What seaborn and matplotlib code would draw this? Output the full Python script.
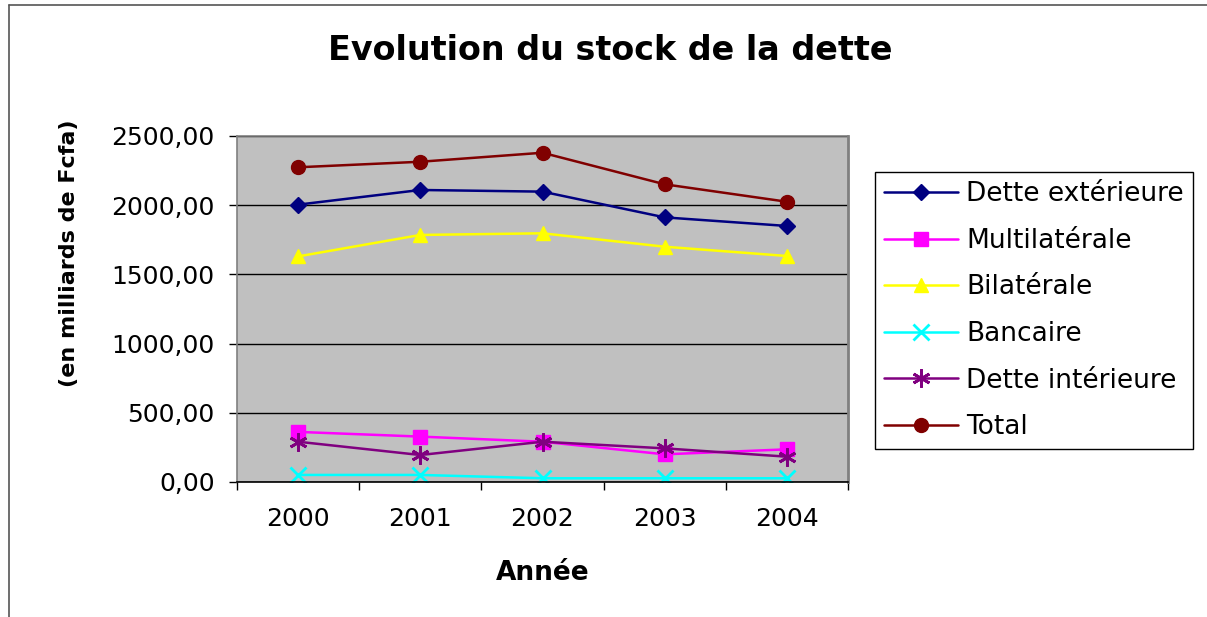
import matplotlib
matplotlib.use("Agg")
import matplotlib.pyplot as plt
from matplotlib.lines import Line2D
import seaborn as sns
import pandas as pd
import numpy as np

years = ["2000", "2001", "2002", "2003", "2004"]
dette_exterieure = [2004, 2110, 2098, 1912, 1850]
multilaterale = [362, 328, 291, 200, 236]
bilaterale = [1630, 1785, 1797, 1700, 1633]
bancaire = [51, 51, 27, 27, 27]
dette_interieure = [291, 195, 291, 243, 183]
total = [2274, 2314, 2379, 2151, 2025]

series_names = ["Dette extérieure", "Multilatérale", "Bilatérale",
                "Bancaire", "Dette intérieure", "Total"]
series_values = [dette_exterieure, multilaterale, bilaterale,
                 bancaire, dette_interieure, total]
colors = ["#000080", "#FF00FF", "#FFFF00", "#00FFFF", "#800080", "#800000"]
markers = ["D", "s", "^", "x", (6, 2, 0), "o"]
msizes = [8, 10, 10, 11, 13, 10]

sns.set_theme(style="ticks")
plt.rcParams["font.family"] = ["DejaVu Sans"]
plt.rcParams["text.color"] = "black"
plt.rcParams["axes.labelcolor"] = "black"
plt.rcParams["xtick.color"] = "black"
plt.rcParams["ytick.color"] = "black"

fig = plt.figure(figsize=(12.07, 6.17), dpi=100)
ax = fig.add_axes([237 / 1207, 135 / 617, 611 / 1207, 346 / 617])
ax.set_facecolor("#C0C0C0")

x_idx = np.arange(len(years))
for name, vals, col, mk, ms in zip(series_names, series_values, colors, markers, msizes):
    df = pd.DataFrame({"idx": x_idx, "valeur": vals})
    sns.lineplot(data=df, x="idx", y="valeur", ax=ax, color=col, marker=mk,
                 markersize=ms, linewidth=1.8, label=name, legend=False)

for ln, col in zip(ax.lines, colors):
    ln.set_markeredgecolor(col)
    ln.set_markerfacecolor(col)
    ln.set_markeredgewidth(2 if ln.get_marker() in ("x",) or isinstance(ln.get_marker(), tuple) else 1)

# axes, grid
ax.set_ylim(0, 2500)
ax.set_yticks(np.arange(0, 2501, 500))
ax.set_yticklabels([f"{v:.2f}".replace(".", ",") for v in np.arange(0, 2501, 500)])
ax.yaxis.grid(True, color="black", linewidth=1)
ax.set_axisbelow(True)

ax.set_xlim(-0.5, len(years) - 0.5)
ax.set_xticks(np.arange(-0.5, len(years), 1.0))
ax.set_xticklabels([])
ax.set_xticks(x_idx, minor=True)
ax.set_xticklabels(years, minor=True)
ax.tick_params(axis="x", which="major", direction="out", length=6, width=1, color="black")
ax.tick_params(axis="x", which="minor", length=0, pad=18, labelsize=18)
ax.tick_params(axis="y", direction="out", length=6, width=1, color="black", pad=10, labelsize=18)

for side in ["top", "left"]:
    ax.spines[side].set_color("#808080")
    ax.spines[side].set_linewidth(1.2)
ax.spines["right"].set_visible(True)
ax.spines["right"].set_color("#808080")
ax.spines["right"].set_linewidth(2)
ax.spines["bottom"].set_color("black")
ax.spines["bottom"].set_linewidth(1.2)

ax.set_xlabel("Année", fontsize=19, fontweight="bold")
ax.xaxis.set_label_coords(0.5, -0.225)
ax.xaxis.label.set_va("top")
ax.set_ylabel("(en milliards de Fcfa)", fontsize=16, fontweight="bold")
ax.yaxis.set_label_coords(-0.258, 0.66)

fig.text(0.506, 1 - 50 / 617, "Evolution du stock de la dette",
         ha="center", va="center", fontsize=24, fontweight="bold")

leg = ax.legend(handles=ax.lines[:6], labels=series_names,
                loc="upper left", bbox_to_anchor=(875 / 1207, 1 - 172 / 617),
                bbox_transform=fig.transFigure, fontsize=19, frameon=True,
                fancybox=False, edgecolor="black", facecolor="white",
                framealpha=1, borderpad=0.35, labelspacing=0.78,
                handlelength=2.8, handletextpad=0.3, borderaxespad=0)
leg.get_frame().set_linewidth(1)

# outer frame of the chart area
fig.add_artist(Line2D([9 / 1207, 9 / 1207], [0, 1 - 5 / 617],
                      transform=fig.transFigure, color="#555555", linewidth=1.2))
fig.add_artist(Line2D([9 / 1207, 1], [1 - 5 / 617, 1 - 5 / 617],
                      transform=fig.transFigure, color="#555555", linewidth=1.2))

fig.savefig("out.png", dpi=100, facecolor="white")
